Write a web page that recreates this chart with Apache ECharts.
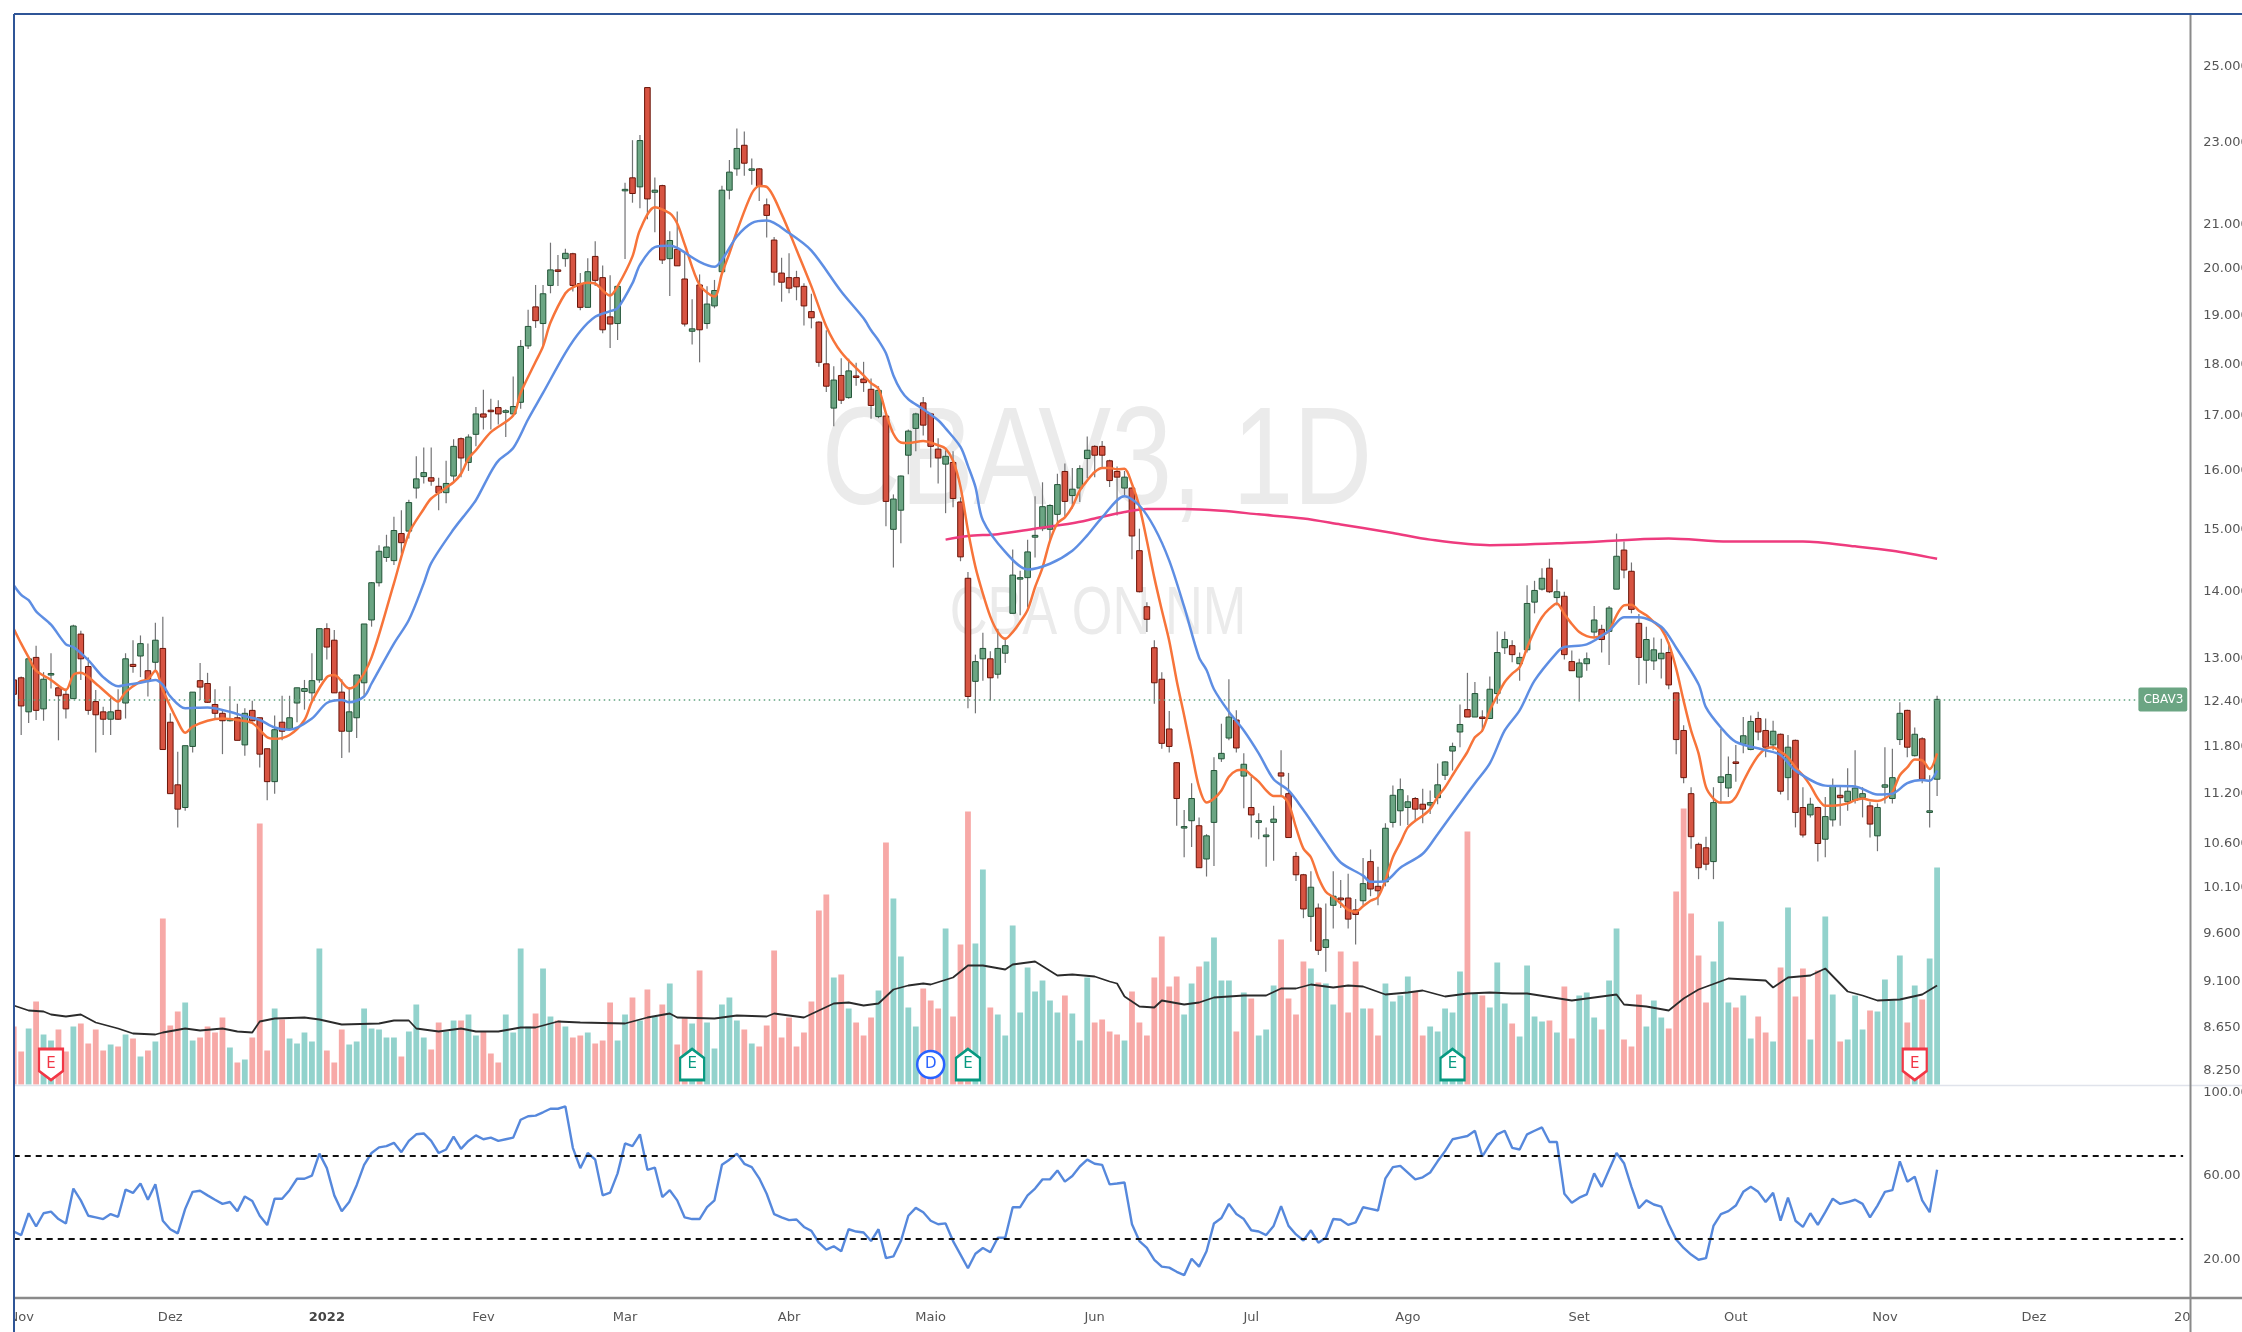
<!DOCTYPE html>
<html>
<head>
<meta charset="utf-8">
<title>CBAV3, 1D</title>
<script src="https://cdn.jsdelivr.net/npm/echarts@6/dist/echarts.min.js"></script>
<style>
html, body { margin: 0; padding: 0; background: #fff; }
#chart { width: 2242px; height: 1332px; }
</style>
</head>
<body>
<div id="chart"></div>
<script>
// daily candles, index 0 is cut off by the left border
var opens = [12.70,12.73,12.26,13.02,12.30,12.77,12.59,12.50,12.44,13.36,12.89,12.40,12.26,12.16,12.28,12.38,12.92,13.04,12.83,12.95,
13.15,12.12,11.31,11.03,11.80,12.69,12.65,12.36,12.24,12.14,12.18,11.82,12.28,12.18,11.77,11.35,12.12,12.03,12.38,12.54,
12.52,12.70,13.44,13.27,12.53,12.00,12.18,12.66,13.57,14.14,14.54,14.49,14.93,14.97,15.70,15.90,15.88,15.73,15.62,15.91,
16.58,16.15,16.66,17.04,17.11,17.16,17.07,17.04,17.26,18.37,19.18,18.83,19.64,19.98,20.23,20.34,19.68,19.17,20.28,19.81,
18.97,18.83,21.81,22.12,21.90,24.44,21.77,21.93,20.23,20.44,19.78,18.67,19.65,18.83,19.20,19.94,21.82,22.34,22.93,22.31,
22.34,21.47,20.65,19.91,19.81,19.81,19.62,19.08,18.86,18.01,17.15,17.78,17.35,17.77,17.71,17.51,16.99,17.00,15.00,15.32,
16.28,16.77,17.25,17.04,16.39,16.12,16.15,15.46,14.21,12.68,13.00,13.00,12.78,13.08,13.67,14.21,14.22,14.87,15.01,15.00,
15.25,15.99,15.57,15.70,16.22,16.44,16.44,16.18,15.99,15.70,15.70,14.65,13.77,13.16,12.71,12.03,11.59,10.79,10.87,10.81,
10.42,10.85,11.64,11.91,12.15,11.42,11.03,10.85,10.68,10.85,11.46,11.20,10.45,10.24,9.78,9.87,9.45,9.90,9.98,9.98,
9.85,9.95,10.39,10.11,10.16,10.85,10.99,11.03,11.14,11.07,11.06,11.15,11.43,11.74,11.99,12.29,12.19,12.19,12.17,12.51,
13.16,13.19,12.93,13.13,13.84,14.04,14.37,13.91,13.93,12.96,12.74,12.93,13.39,13.43,13.40,14.04,14.66,14.32,13.52,12.98,
12.97,13.00,13.09,12.52,12.01,11.20,10.59,10.55,10.39,11.34,11.27,11.60,11.83,11.76,12.17,12.01,11.82,11.96,11.40,11.88,
11.03,10.94,11.03,10.65,10.88,11.18,11.10,11.12,11.15,11.05,10.69,11.28,11.14,11.89,12.28,11.68,11.90,10.97,11.38];
var closes = [12.50,12.34,13.00,12.28,12.71,12.79,12.48,12.30,13.48,13.00,12.28,12.22,12.16,12.26,12.16,13.00,12.89,13.22,12.71,13.27,
11.76,11.20,11.01,11.81,12.53,12.60,12.39,12.24,12.14,12.16,11.88,12.24,12.14,11.70,11.35,12.02,12.00,12.18,12.59,12.58,
12.69,13.44,13.17,12.52,12.00,12.26,12.77,13.51,14.14,14.64,14.71,14.98,14.78,15.45,15.86,15.97,15.82,15.62,15.78,16.44,
16.23,16.61,17.04,16.98,17.09,17.04,17.10,17.18,18.36,18.77,18.89,19.46,19.98,19.96,20.35,19.64,19.17,19.94,19.75,18.70,
18.82,19.62,21.84,21.74,23.05,21.61,21.82,20.20,20.64,20.07,18.82,18.72,18.70,19.24,19.53,21.82,22.26,22.85,22.48,22.34,
21.92,21.22,19.93,19.71,19.58,19.61,19.20,18.95,18.04,17.57,17.69,17.30,17.87,17.74,17.64,17.20,17.49,15.47,15.51,15.91,
16.72,17.04,16.83,16.44,16.23,16.26,15.52,14.55,12.47,12.96,13.15,12.73,13.15,13.19,14.26,14.22,14.63,14.90,15.38,15.40,
15.76,15.47,15.68,16.04,16.37,16.28,16.28,15.83,15.89,15.89,14.89,14.00,13.58,12.66,11.84,11.80,11.14,10.80,11.14,10.32,
10.69,11.49,11.71,12.19,11.78,11.57,10.94,10.87,10.70,10.89,11.42,10.67,10.24,9.86,10.10,9.42,9.53,10.00,9.96,9.75,
9.80,10.14,10.08,10.06,10.78,11.18,11.25,11.10,11.01,11.01,11.09,11.31,11.60,11.80,12.09,12.19,12.51,12.17,12.57,13.09,
13.28,13.06,13.02,13.82,14.02,14.21,14.00,14.00,13.06,12.83,12.94,13.00,13.57,13.28,13.75,14.56,14.34,13.73,13.02,13.28,
13.13,13.08,12.63,11.89,11.40,10.68,10.32,10.36,11.09,11.41,11.44,11.58,11.94,12.13,11.99,11.79,12.00,11.23,11.79,10.97,
10.70,11.07,10.60,10.92,11.30,11.15,11.23,11.27,11.20,10.83,11.03,11.31,11.40,12.24,11.79,11.96,11.38,10.99,12.43];
var lows = [12.20,11.95,12.11,12.15,12.14,12.58,11.88,12.17,12.44,12.70,12.22,11.72,11.95,11.95,12.15,12.17,12.80,12.74,12.47,12.81,
11.76,11.20,10.79,10.99,11.72,12.42,12.38,12.15,11.70,12.13,11.88,11.68,12.13,11.53,11.12,11.20,11.88,12.01,12.12,12.29,
12.42,12.66,12.99,12.52,11.65,11.72,11.91,12.47,13.47,14.08,14.47,14.42,14.60,14.85,15.52,15.78,15.74,15.32,15.44,15.80,
15.89,16.00,16.44,16.75,16.75,16.84,16.61,17.04,17.14,18.31,18.74,18.36,19.47,19.63,20.05,19.51,19.11,19.17,19.63,18.63,
18.33,18.49,20.22,21.52,21.39,21.13,20.83,20.11,19.41,20.07,18.77,18.40,18.04,18.72,19.15,19.94,21.60,22.17,22.17,21.95,
21.56,20.71,19.64,19.29,19.47,19.32,18.79,18.73,17.95,17.46,16.81,17.23,17.33,17.58,17.46,16.95,16.96,15.05,14.38,14.77,
15.94,16.35,16.64,16.06,15.78,15.27,15.37,14.48,12.31,12.24,12.69,12.41,12.72,12.94,13.67,13.64,13.76,14.54,14.97,14.82,
15.08,15.22,15.35,15.46,15.87,15.89,16.04,15.72,15.23,15.57,14.51,13.99,13.39,12.37,11.77,11.72,10.81,10.44,10.56,10.32,
10.22,10.34,11.60,11.88,11.72,11.02,10.67,10.65,10.33,10.40,11.16,10.67,10.17,9.76,9.51,9.37,9.20,9.65,9.87,9.65,
9.48,9.90,10.00,9.90,10.11,10.79,10.81,10.82,10.87,10.84,10.95,11.07,11.37,11.49,11.79,12.19,12.19,11.99,12.17,12.37,
13.07,12.95,12.69,13.09,13.67,14.02,13.98,13.79,12.99,12.83,12.40,12.83,13.30,13.09,12.91,14.04,14.21,13.67,12.63,12.65,
12.84,12.72,12.57,11.70,11.33,10.54,10.19,10.29,10.19,11.08,11.16,11.35,11.71,11.75,11.88,11.66,11.75,11.19,11.12,10.79,
10.67,10.91,10.39,10.44,10.80,10.81,10.99,11.08,10.91,10.67,10.51,11.08,11.08,11.82,11.66,11.67,11.33,10.79,11.17];
var highs = [12.90,12.75,13.02,13.19,12.81,13.08,12.60,12.58,13.50,13.41,13.02,12.56,12.33,12.46,12.57,13.08,13.27,13.34,13.22,13.53,
13.62,12.24,11.73,11.81,12.53,12.94,12.80,12.57,12.29,12.61,12.37,12.31,12.41,12.18,11.77,12.21,12.48,12.48,12.59,12.70,
13.08,13.44,13.52,13.42,12.71,12.60,12.77,13.51,14.15,14.74,14.91,15.21,15.32,15.50,16.26,16.42,16.42,15.88,16.18,16.57,
16.60,16.66,17.17,17.50,17.33,17.30,17.13,17.76,18.49,19.12,19.65,19.65,20.59,20.31,20.45,20.36,19.91,20.24,20.62,20.08,
19.86,19.62,22.00,23.06,23.19,24.44,22.13,21.95,20.85,21.31,20.37,19.34,19.88,19.62,19.76,21.93,22.56,23.36,23.28,22.60,
22.36,21.62,20.72,20.25,20.35,19.96,19.69,19.46,18.88,18.69,17.96,18.12,18.11,18.03,18.05,17.72,17.57,17.06,15.59,15.92,
16.75,17.06,17.36,17.06,16.59,16.37,16.35,15.54,14.31,13.06,13.38,13.11,13.44,13.31,14.67,14.33,14.83,15.56,15.80,15.42,
15.95,16.13,16.05,16.10,16.62,16.46,16.54,16.20,16.08,16.00,15.71,15.01,13.84,13.27,12.81,12.27,11.60,11.00,11.33,10.91,
10.71,11.66,12.10,12.71,12.28,11.71,11.41,10.96,10.79,11.05,11.75,11.46,10.50,10.25,10.28,9.92,9.92,10.28,10.18,10.25,
9.97,10.43,10.53,10.33,10.84,11.30,11.39,11.18,11.16,11.26,11.24,11.58,11.61,11.85,12.36,12.80,12.67,12.28,12.75,13.40,
13.40,13.27,13.09,14.10,14.17,14.37,14.52,14.19,14.00,13.12,13.00,13.09,13.78,13.50,13.78,14.93,14.80,14.46,13.66,13.47,
13.31,13.29,13.24,12.52,12.08,11.28,10.61,10.68,11.28,12.03,11.67,11.82,12.19,12.21,12.26,12.17,12.14,11.97,11.95,11.89,
11.28,11.15,11.04,11.16,11.39,11.30,11.52,11.75,11.28,11.10,11.08,11.79,11.77,12.39,12.29,12.05,11.92,11.43,12.48];

// volume in chart units
var volumes = [58,33,56,83,50,44,55,33,58,61,41,55,34,40,38,50,46,28,34,43,
166,59,73,82,44,47,58,52,67,37,22,25,47,261,34,76,65,46,41,52,
43,136,34,22,55,40,43,76,56,55,47,47,28,53,80,47,35,62,53,64,
64,70,49,53,31,22,70,52,136,58,71,116,68,64,58,47,49,52,41,44,
82,44,70,87,64,95,68,80,101,40,67,61,114,62,36,80,87,64,55,41,
38,59,134,47,67,38,52,83,174,190,107,110,76,62,49,67,94,242,186,128,
77,58,96,84,76,156,68,140,273,141,215,77,70,49,159,72,117,93,104,84,
72,89,71,44,107,62,65,53,50,44,93,62,49,107,148,98,108,70,101,118,
123,147,104,104,53,92,86,49,55,99,145,86,70,123,116,102,101,80,133,72,
123,76,76,49,101,83,89,108,93,49,58,53,76,72,113,253,91,89,77,122,
81,61,48,119,68,63,64,52,98,46,89,92,67,55,104,156,45,38,90,58,
84,67,56,193,276,171,129,82,123,163,82,77,89,46,68,52,43,117,177,88,
116,45,114,168,90,43,45,89,55,74,73,105,84,129,62,99,85,126,217];

// moving averages as [bar index, value]
var emaFast = [[0,13.44],[1,13.22],[2,13.02],[3,12.83],[5,12.70],[7,12.56],[8,12.77],[9,12.80],[11,12.65],[13,12.47],[14,12.40],[15,12.53],[17,12.68],[18,12.71],[19,12.83],[20,12.56],[22,12.13],[23,11.98],[24,12.06],[26,12.14],[28,12.17],[30,12.15],[32,12.11],[34,11.92],[35,11.90],[37,11.95],[39,12.15],[40,12.40],[42,12.74],[43,12.77],[45,12.58],[46,12.63],[48,13.02],[51,14.13],[53,14.93],[55,15.34],[56,15.52],[59,15.80],[60,15.95],[61,16.22],[62,16.37],[64,16.70],[67,17.01],[68,17.44],[70,18.05],[71,18.36],[72,18.85],[74,19.47],[75,19.60],[77,19.70],[78,19.68],[80,19.42],[81,19.62],[83,20.28],[84,20.88],[86,21.41],[88,21.27],[89,21.03],[90,20.55],[92,19.65],[94,19.40],[95,19.90],[96,20.35],[97,20.85],[99,21.74],[100,21.92],[101,21.90],[103,21.25],[105,20.43],[107,19.62],[109,18.77],[111,18.24],[114,17.78],[115,17.63],[116,17.52],[117,17.05],[118,16.67],[119,16.51],[120,16.50],[122,16.54],[124,16.46],[125,16.40],[126,16.18],[127,15.72],[128,14.98],[129,14.39],[130,13.97],[131,13.62],[132,13.39],[133,13.29],[134,13.39],[135,13.54],[136,13.72],[137,14.07],[138,14.38],[139,14.81],[140,15.10],[141,15.20],[142,15.38],[143,15.66],[144,15.83],[145,15.98],[146,16.05],[147,16.05],[148,16.03],[149,16.04],[150,15.77],[151,15.38],[152,14.81],[153,14.22],[154,13.72],[155,13.26],[156,12.69],[157,12.21],[158,11.73],[159,11.28],[160,11.09],[161,11.14],[162,11.24],[163,11.41],[164,11.49],[165,11.50],[166,11.43],[167,11.35],[168,11.24],[169,11.17],[170,11.17],[171,11.08],[172,10.79],[173,10.54],[174,10.44],[175,10.21],[176,10.05],[177,9.99],[178,9.92],[179,9.85],[180,9.83],[181,9.89],[182,9.95],[183,9.99],[184,10.18],[185,10.44],[186,10.61],[187,10.79],[188,10.87],[189,10.93],[190,11.01],[191,11.16],[192,11.28],[193,11.43],[194,11.58],[195,11.73],[196,11.92],[197,12.01],[198,12.28],[199,12.48],[200,12.67],[201,12.79],[202,12.88],[203,13.16],[204,13.41],[205,13.61],[206,13.74],[207,13.82],[208,13.66],[209,13.51],[210,13.39],[211,13.33],[212,13.31],[213,13.34],[214,13.41],[215,13.64],[216,13.79],[217,13.80],[218,13.71],[219,13.64],[220,13.54],[221,13.44],[222,13.22],[223,12.86],[224,12.41],[225,12.01],[226,11.71],[227,11.28],[228,11.14],[229,11.09],[230,11.09],[231,11.16],[232,11.35],[233,11.53],[234,11.68],[235,11.77],[236,11.79],[237,11.73],[238,11.66],[239,11.53],[240,11.43],[241,11.30],[242,11.14],[243,11.05],[244,11.05],[245,11.06],[246,11.08],[247,11.12],[248,11.14],[249,11.12],[250,11.11],[251,11.14],[252,11.22],[253,11.43],[254,11.53],[255,11.63],[256,11.62],[257,11.51],[258,11.71]];
var emaSlow = [[0,14.10],[1,13.95],[2,13.87],[3,13.70],[5,13.50],[7,13.21],[8,13.17],[10,12.98],[12,12.74],[14,12.61],[15,12.63],[17,12.66],[19,12.70],[20,12.63],[21,12.47],[23,12.31],[26,12.32],[29,12.26],[31,12.20],[33,12.15],[35,12.05],[37,12.02],[40,12.17],[42,12.38],[44,12.42],[45,12.39],[47,12.47],[48,12.65],[51,13.22],[53,13.57],[55,14.13],[56,14.45],[59,15.00],[61,15.32],[62,15.49],[64,15.98],[65,16.18],[67,16.41],[69,16.94],[71,17.44],[74,18.23],[76,18.67],[78,18.97],[80,19.09],[81,19.15],[83,19.69],[84,20.09],[86,20.49],[88,20.52],[89,20.47],[92,20.16],[94,20.05],[95,20.20],[97,20.73],[99,21.04],[101,21.10],[104,20.81],[107,20.41],[111,19.51],[114,18.94],[115,18.69],[116,18.48],[117,18.22],[118,17.78],[119,17.49],[120,17.32],[122,17.13],[124,16.92],[125,16.77],[127,16.43],[128,16.09],[129,15.72],[130,15.15],[133,14.63],[136,14.35],[139,14.44],[142,14.65],[144,14.90],[146,15.20],[149,15.56],[151,15.40],[153,15.03],[155,14.49],[157,13.77],[159,13.02],[160,12.84],[161,12.57],[163,12.26],[165,12.01],[167,11.71],[169,11.38],[171,11.24],[173,11.00],[174,10.87],[176,10.61],[178,10.38],[181,10.23],[182,10.16],[184,10.17],[186,10.32],[189,10.48],[191,10.71],[194,11.08],[196,11.33],[198,11.58],[200,12.01],[202,12.28],[204,12.69],[207,13.09],[208,13.17],[211,13.21],[214,13.41],[216,13.61],[218,13.61],[221,13.47],[223,13.16],[226,12.64],[227,12.32],[229,12.05],[231,11.86],[235,11.75],[237,11.69],[239,11.49],[243,11.30],[247,11.29],[250,11.19],[252,11.20],[254,11.33],[256,11.37],[257,11.36],[258,11.49]];
var sma200 = [[125,14.83],[128,14.89],[132,14.92],[137,15.01],[142,15.10],[145,15.18],[149,15.29],[152,15.34],[157,15.34],[162,15.31],[167,15.25],[173,15.18],[178,15.08],[181,15.02],[185,14.94],[190,14.83],[198,14.74],[209,14.78],[222,14.85],[230,14.80],[240,14.80],[247,14.72],[252,14.65],[258,14.52]];
var volumeMa = [[0,79],[2,74],[4,73],[5,70],[7,68],[9,70],[11,62],[14,56],[16,51],[19,50],[20,52],[23,56],[25,54],[28,56],[30,53],[32,52],[33,63],[35,66],[39,67],[41,65],[44,60],[49,61],[51,64],[53,64],[54,56],[57,53],[60,56],[62,53],[65,53],[68,57],[70,57],[73,63],[76,62],[82,61],[85,67],[88,71],[89,67],[94,66],[97,69],[101,68],[102,71],[106,67],[110,81],[112,82],[114,79],[116,81],[118,95],[120,99],[122,101],[123,100],[126,107],[128,119],[130,119],[133,115],[134,120],[137,123],[140,109],[142,110],[145,108],[147,103],[148,101],[149,88],[151,78],[153,77],[154,84],[157,80],[159,82],[161,87],[165,89],[168,89],[170,96],[172,96],[174,100],[177,97],[179,99],[181,98],[184,90],[187,92],[189,94],[192,88],[195,91],[198,92],[201,91],[203,91],[209,84],[215,90],[216,80],[219,78],[222,74],[224,86],[226,95],[230,106],[235,104],[236,97],[238,107],[241,109],[243,116],[246,93],[248,89],[250,84],[253,85],[256,90],[258,99]];

// RSI per bar
var rsi = [33.3,31.6,42.1,35.7,42.1,42.9,39.3,37.2,54.0,48.3,40.9,40.1,39.3,41.7,40.4,53.5,51.9,56.4,48.6,56.1,
38.5,34.4,32.4,44.2,52.4,52.9,50.7,48.6,46.6,47.5,43.1,50.2,48.0,40.9,36.4,49.1,49.1,53.2,58.7,58.7,
60.2,70.8,63.8,50.7,43.1,47.5,55.6,65.4,71.1,73.8,74.4,76.0,71.5,76.9,80.1,80.5,76.9,71.1,72.8,79.0,
73.1,76.9,79.6,77.7,78.5,76.9,77.7,78.5,87.1,88.8,89.1,90.7,92.4,92.4,93.5,73.6,63.8,71.1,67.9,50.7,
52.0,61.3,75.7,74.4,80.1,63.0,64.1,49.9,53.2,48.3,40.1,39.3,39.3,45.0,48.3,65.4,67.9,70.8,65.9,64.3,
58.9,51.5,41.7,40.1,38.8,39.1,35.5,33.6,27.9,24.6,26.2,23.8,34.4,33.3,32.8,28.7,34.4,20.5,21.3,28.7,
40.9,44.7,42.6,38.5,36.8,37.2,28.7,22.2,15.6,22.6,25.4,23.3,30.3,30.3,45.0,45.0,50.7,54.0,58.4,58.4,
62.7,57.3,60.0,64.6,67.9,65.9,65.4,56.0,56.4,56.9,36.8,28.7,25.4,19.7,16.4,15.9,13.9,12.3,20.2,16.4,
23.8,37.2,39.8,46.6,41.7,39.3,33.9,33.3,31.6,36.0,45.5,36.0,31.9,29.0,33.9,27.9,30.3,39.3,39.0,36.5,
37.7,45.0,44.2,43.4,58.9,64.3,64.9,61.7,58.4,59.4,61.7,67.1,72.0,77.7,78.5,79.3,81.8,69.5,75.2,80.1,
81.8,73.6,72.8,80.1,81.8,83.4,76.4,76.4,51.5,47.1,49.6,51.2,61.3,54.8,63.0,71.1,66.2,54.8,44.5,48.3,
46.3,45.3,36.8,29.5,25.4,22.2,19.7,20.5,36.0,41.7,43.1,45.8,52.4,54.8,52.4,47.5,51.9,38.5,49.6,38.5,
35.5,42.1,36.5,42.6,49.1,46.6,47.5,48.6,46.6,40.1,45.8,52.4,53.2,67.1,57.3,59.7,48.3,42.6,63.0];

// ticks
var monthLabels = ['Nov','Dez','2022','Fev','Mar','Abr','Maio','Jun','Jul','Ago','Set','Out','Nov','Dez','2023'];
var monthIndex = [1,21,42,63,82,104,123,145,166,187,210,231,251,271,292];
var priceTicks = [25,23,21,20,19,18,17,16,15,14,13,12.4,11.8,11.2,10.6,10.1,9.6,9.1,8.65,8.25];
var rsiTicks = [100,60,20];
var rsiBands = [70,30];

// earnings and dividend flags under the volume bars
var earningsDown = [5,255];
var earningsUp = [91,128,193];
var dividends = [123];

var barCount = 293;
var categories = [];
for (var i = 0; i < barCount; i++) categories.push('');
monthIndex.forEach(function (idx, k) { categories[idx] = monthLabels[k]; });

var candleData = opens.map(function (o, i) { return [i, o, closes[i], lows[i], highs[i]]; });

function renderCandle(params, api) {
    var x = api.value(0), o = api.value(1), c = api.value(2);
    var hi = api.coord([x, api.value(4)]);
    var lo = api.coord([x, api.value(3)]);
    var top = api.coord([x, Math.max(o, c)]);
    var bot = api.coord([x, Math.min(o, c)]);
    var up = c >= o;
    var w = 5.6;
    return {
        type: 'group',
        children: [{
            type: 'line',
            shape: { x1: hi[0], y1: hi[1], x2: lo[0], y2: lo[1] },
            style: { stroke: '#737375', lineWidth: 1.2 }
        }, {
            type: 'rect',
            shape: { x: top[0] - w / 2, y: top[1], width: w, height: Math.max(bot[1] - top[1], 1.5) },
            style: { fill: up ? '#6BA583' : '#D75442', stroke: up ? '#225437' : '#6B1408', lineWidth: 1 }
        }]
    };
}

function flagSeries(name, idx, path, size, color, text) {
    return {
        name: name,
        type: 'scatter',
        xAxisIndex: 1,
        yAxisIndex: 1,
        z: 6,
        symbol: path,
        symbolSize: size,
        data: idx.map(function (i) { return [i, 20]; }),
        itemStyle: { color: '#fff', borderColor: color, borderWidth: 2.5, opacity: 1 },
        label: { show: true, position: 'inside', formatter: text, color: color, fontFamily: 'DejaVu Sans', fontSize: 15 }
    };
}

var lastClose = closes[closes.length - 1];
var gridLeft = 10, gridRight = 47.7;
var axisFont = { color: '#555', fontFamily: 'DejaVu Sans', fontSize: 13 };

var option = {
    animation: false,
    backgroundColor: '#fff',
    // labels run past the canvas on purpose, so the grids must not shrink
    grid: [
        { left: gridLeft, right: gridRight, top: 14, height: 1071, outerBoundsMode: 'none' },
        { left: gridLeft, right: gridRight, top: 800, height: 284.5, outerBoundsMode: 'none' },
        { left: gridLeft, right: gridRight, top: 1086, height: 212, outerBoundsMode: 'none' }
    ],
    xAxis: [
        { type: 'category', gridIndex: 0, data: categories, show: false },
        { type: 'category', gridIndex: 1, data: categories, show: false },
        {
            type: 'category', gridIndex: 2, data: categories,
            axisLine: { show: false }, axisTick: { show: false }, splitLine: { show: false },
            axisLabel: {
                show: true, interval: 0, margin: 13, hideOverlap: false,
                color: axisFont.color, fontFamily: axisFont.fontFamily, fontSize: axisFont.fontSize,
                formatter: function (v) { return v === '2022' ? '{b|2022}' : v; },
                rich: { b: { fontWeight: 'bold', color: '#444', fontFamily: axisFont.fontFamily, fontSize: 13 } }
            }
        }
    ],
    yAxis: [
        {
            type: 'log', logBase: 10, gridIndex: 0, position: 'right', min: 8.117, max: 26.51,
            axisLine: { show: false }, axisTick: { show: false }, splitLine: { show: false },
            axisLabel: {
                show: true, customValues: priceTicks, margin: 9, align: 'left',
                color: axisFont.color, fontFamily: axisFont.fontFamily, fontSize: axisFont.fontSize,
                formatter: function (v) { return Number(v).toFixed(3); }
            }
        },
        { type: 'value', gridIndex: 1, min: 0, max: 284.5, show: false },
        {
            type: 'value', gridIndex: 2, position: 'right', min: 1.3, max: 103.35,
            axisLine: { show: false }, axisTick: { show: false }, splitLine: { show: false },
            axisLabel: {
                show: true, customValues: rsiTicks, margin: 9, align: 'left',
                color: axisFont.color, fontFamily: axisFont.fontFamily, fontSize: axisFont.fontSize,
                formatter: function (v) { return Number(v).toFixed(2); }
            }
        }
    ],
    graphic: [
        // watermark behind the candles
        { type: 'text', x: 1097, y: 465, z: -1, scaleX: 0.78, style: { text: 'CBAV3, 1D', font: '140px "Liberation Sans"', fill: '#ebebeb', textAlign: 'center', textVerticalAlign: 'middle' } },
        { type: 'text', x: 1098, y: 615, z: -1, scaleX: 0.77, style: { text: 'CBA ON NM', font: '68px "Liberation Sans"', fill: '#ebebeb', textAlign: 'center', textVerticalAlign: 'middle' } },
        // clip what runs past the frame
        { type: 'rect', z: 100, shape: { x: 0, y: 0, width: 13, height: 1332 }, style: { fill: '#fff' } },
        { type: 'rect', z: 100, shape: { x: 2191, y: 1300, width: 51, height: 32 }, style: { fill: '#fff' } },
        // frame and pane separators
        { type: 'line', z: 101, shape: { x1: 14, y1: 1085.5, x2: 2242, y2: 1085.5 }, style: { stroke: '#E0E3EB', lineWidth: 1.5 } },
        { type: 'line', z: 101, shape: { x1: 14, y1: 1298, x2: 2242, y2: 1298 }, style: { stroke: '#8A8A8A', lineWidth: 2.5 } },
        { type: 'line', z: 101, shape: { x1: 2190.5, y1: 14, x2: 2190.5, y2: 1332 }, style: { stroke: '#8A8A8A', lineWidth: 2 } },
        { type: 'line', z: 102, shape: { x1: 14, y1: 14, x2: 2242, y2: 14 }, style: { stroke: '#2F5597', lineWidth: 2 } },
        { type: 'line', z: 102, shape: { x1: 14, y1: 14, x2: 14, y2: 1332 }, style: { stroke: '#2F5597', lineWidth: 2 } }
    ],
    series: [
        {
            name: 'Volume', type: 'bar', xAxisIndex: 1, yAxisIndex: 1, z: 1, barWidth: 5.8,
            data: volumes,
            itemStyle: {
                color: function (p) { return closes[p.dataIndex] >= opens[p.dataIndex] ? '#92D2CC' : '#F7A9A7'; }
            }
        },
        {
            name: 'Volume MA', type: 'line', xAxisIndex: 1, yAxisIndex: 1, z: 2, data: volumeMa,
            symbol: 'none', lineStyle: { color: '#2B2B2B', width: 1.8 }
        },
        {
            name: 'CBAV3', type: 'custom', xAxisIndex: 0, yAxisIndex: 0, z: 3, clip: true,
            data: candleData, encode: { x: 0, y: [1, 2, 3, 4] }, renderItem: renderCandle
        },
        {
            name: 'SMA 200', type: 'line', xAxisIndex: 0, yAxisIndex: 0, z: 4, data: sma200, smooth: 0.3,
            symbol: 'none', lineStyle: { color: '#EE3B7E', width: 2.5 },
            markLine: {
                silent: true, symbol: 'none', animation: false,
                lineStyle: { color: '#5FA37F', type: [1.5, 3.5], width: 1.5 },
                label: {
                    show: true, position: 'end', distance: 0, formatter: 'CBAV3', color: '#fff',
                    fontFamily: 'DejaVu Sans', fontSize: 12, backgroundColor: '#6BA583',
                    borderRadius: 2, padding: [6, 4, 6, 5]
                },
                data: [[{ xAxis: 0, yAxis: lastClose }, { xAxis: 285, yAxis: lastClose }]]
            }
        },
        {
            name: 'EMA fast', type: 'line', xAxisIndex: 0, yAxisIndex: 0, z: 5, data: emaFast, smooth: 0.3,
            symbol: 'none', lineStyle: { color: '#F7743A', width: 2.5 }
        },
        {
            name: 'EMA slow', type: 'line', xAxisIndex: 0, yAxisIndex: 0, z: 5, data: emaSlow, smooth: 0.3,
            symbol: 'none', lineStyle: { color: '#5E8EE3', width: 2.5 }
        },
        flagSeries('Earnings', earningsDown, 'path://M0 0H20V22L10 31L0 22Z', [24, 31], '#F23645', 'E'),
        flagSeries('Earnings', earningsUp, 'path://M10 0L20 9V31H0V9Z', [24, 31], '#089981', 'E'),
        flagSeries('Dividend', dividends, 'circle', [27, 27], '#2962FF', 'D'),
        {
            name: 'RSI', type: 'line', xAxisIndex: 2, yAxisIndex: 2, z: 3, data: rsi,
            symbol: 'none', lineStyle: { color: '#5688DC', width: 2.4 },
            markLine: {
                silent: true, symbol: 'none', animation: false, label: { show: false },
                lineStyle: { color: '#111', type: [6, 5], width: 1.8 },
                data: rsiBands.map(function (b) {
                    return [{ xAxis: 0, yAxis: b }, { xAxis: 291, yAxis: b }];
                })
            }
        }
    ]
};

var chart = echarts.init(document.getElementById('chart'));
chart.setOption(option);
</script>
</body>
</html>
